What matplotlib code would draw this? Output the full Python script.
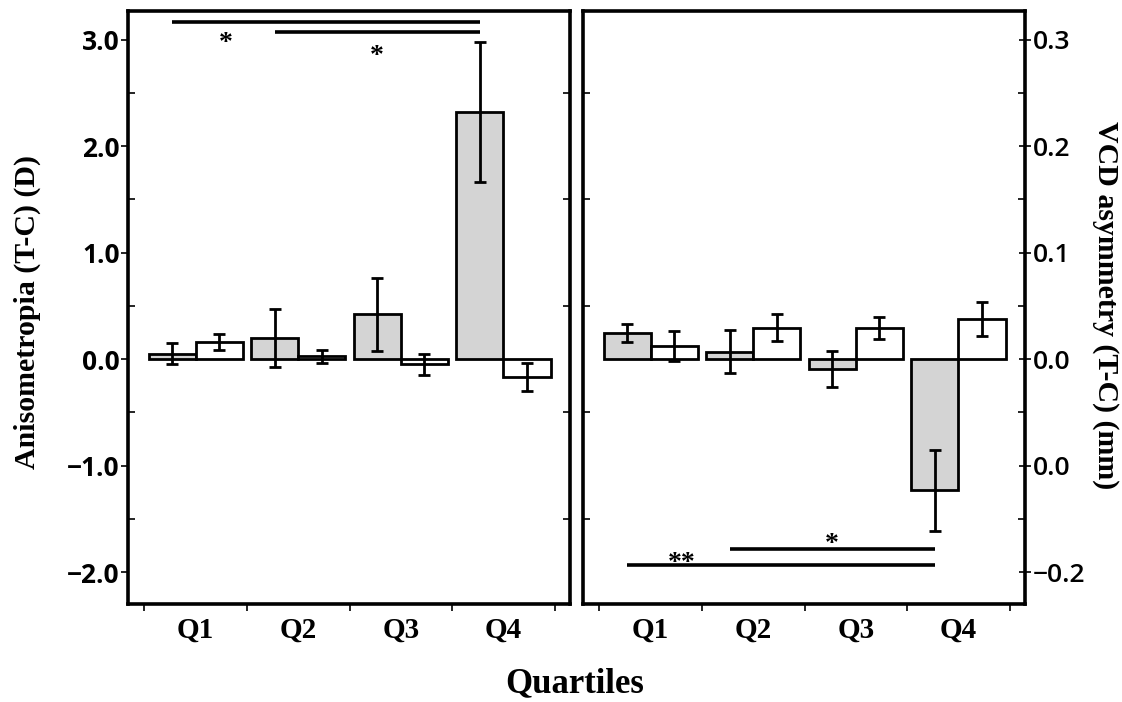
import matplotlib
matplotlib.use("Agg")
import matplotlib.pyplot as plt
import numpy as np

# ---- data ----
quartiles = ["Q1", "Q2", "Q3", "Q4"]

# left panel: Anisometropia (T-C) (D)
aniso_gray = [0.05, 0.20, 0.42, 2.32]
aniso_gray_err = [0.10, 0.27, 0.345, 0.66]
aniso_white = [0.165, 0.025, -0.05, -0.17]
aniso_white_err = [0.075, 0.065, 0.10, 0.13]

# right panel: VCD asymmetry (T-C) (mm)
vcd_gray = [0.0245, 0.007, -0.009, -0.123]
vcd_gray_err = [0.0085, 0.020, 0.017, 0.038]
vcd_white = [0.012, 0.0295, 0.029, 0.038]
vcd_white_err = [0.014, 0.0125, 0.0105, 0.016]

left_yticks = [3.0, 2.0, 1.0, 0.0, -1.0, -2.0]
left_yticklabels = ["3.0", "2.0", "1.0", "0.0", "\u22121.0", "\u22122.0"]
right_yticks = [0.3, 0.2, 0.1, 0.0, -0.1, -0.2]
right_yticklabels = ["0.3", "0.2", "0.1", "0.0", "0.0", "\u22120.2"]

# significance annotations: (from group, to group, y, label, label x, label baseline y)
left_sig = [(0, 3, 3.17, "*", 0.29, 2.90), (1, 3, 3.07, "*", 1.77, 2.78)]
right_sig = [(0, 3, -0.193, "**", 0.30, -0.198), (1, 3, -0.178, "*", 1.77, -0.180)]

# ---- figure ----
W, H = 1122, 702
fig = plt.figure(figsize=(W / 100, H / 100), dpi=100)

def frac_box(x0, x1, ytop, ybot):
    return [x0 / W, 1 - ybot / H, (x1 - x0) / W, (ybot - ytop) / H]

axL = fig.add_axes(frac_box(128, 570, 11, 604))
axR = fig.add_axes(frac_box(583, 1025, 11, 604))

serif = ["Liberation Serif", "DejaVu Serif"]
sans = ["Open Sans", "DejaVu Sans"]

x = np.arange(len(quartiles))
bw = 0.46
gray = "#d4d4d4"
err_kw = dict(elinewidth=2.0, capthick=2.0, ecolor="black")

def draw(ax, g, ge, w, we, ylim):
    ax.bar(x - bw / 2, g, bw, color=gray, edgecolor="black", linewidth=2.0,
           yerr=ge, capsize=4, error_kw=err_kw, zorder=2)
    ax.bar(x + bw / 2, w, bw, color="white", edgecolor="black", linewidth=2.0,
           yerr=we, capsize=4, error_kw=err_kw, zorder=2)
    ax.set_xlim(-0.66, 3.65)
    ax.set_ylim(*ylim)
    for s in ax.spines.values():
        s.set_linewidth(2.6)
    ax.set_xticks(np.arange(-0.5, 4.0, 1.0))
    ax.set_xticklabels([])
    ax.set_xticks(x, minor=True)
    ax.set_xticklabels(quartiles, minor=True, fontfamily=serif,
                       fontweight="bold", fontsize=21)
    ax.tick_params(axis="x", which="major", direction="out", length=5,
                   width=1.2, bottom=True, top=False)
    ax.tick_params(axis="x", which="minor", length=0, pad=9)

def sig(ax, items, fs):
    for a, b, yv, lab, lx, ly in items:
        ax.plot([x[a] - bw / 2, x[b] - bw / 2], [yv, yv], color="black",
                linewidth=2.6, solid_capstyle="butt", zorder=3)
        ax.text(lx, ly, lab, ha="center", va="baseline", fontsize=fs,
                fontfamily=serif, fontweight="bold")

draw(axL, aniso_gray, aniso_gray_err, aniso_white, aniso_white_err, (-2.30, 3.27))
draw(axR, vcd_gray, vcd_gray_err, vcd_white, vcd_white_err, (-0.230, 0.327))

# left panel y axis
axL.set_yticks(left_yticks)
axL.set_yticklabels(left_yticklabels, fontfamily=sans, fontweight="bold", fontsize=19)
axL.set_yticks([2.5, 1.5, 0.5, -0.5, -1.5], minor=True)
axL.tick_params(axis="y", which="major", direction="out", length=5, width=1.2,
                left=True, right=False, pad=1)
axL.tick_params(axis="y", which="minor", direction="in", length=5, width=1.2,
                left=True, right=True)

# right panel y axis
axR.yaxis.tick_right()
axR.set_yticks(right_yticks)
axR.set_yticklabels(right_yticklabels, fontfamily=sans, fontweight="semibold", fontsize=19)
axR.set_yticks([0.25, 0.15, 0.05, -0.05, -0.15], minor=True)
axR.tick_params(axis="y", which="major", direction="inout", length=9, width=1.2,
                left=False, right=True, pad=1)
axR.tick_params(axis="y", which="minor", direction="in", length=5, width=1.2,
                left=True, right=True)

sig(axL, left_sig, 20)
sig(axR, right_sig, 20)

# axis titles
fig.text(27 / W, 1 - 312 / H, "Anisometropia (T-C) (D)", rotation=90,
         ha="center", va="center", fontfamily=serif, fontweight="bold", fontsize=21.5)
fig.text(1105 / W, 1 - 305 / H, "VCD asymmetry (T-C) (mm)", rotation=270,
         ha="center", va="center", fontfamily=serif, fontweight="bold", fontsize=21.5)
fig.text(575 / W, 1 - 684 / H, "Quartiles", ha="center", va="center",
         fontfamily=serif, fontweight="bold", fontsize=25)

fig.savefig("out.png", dpi=100)
